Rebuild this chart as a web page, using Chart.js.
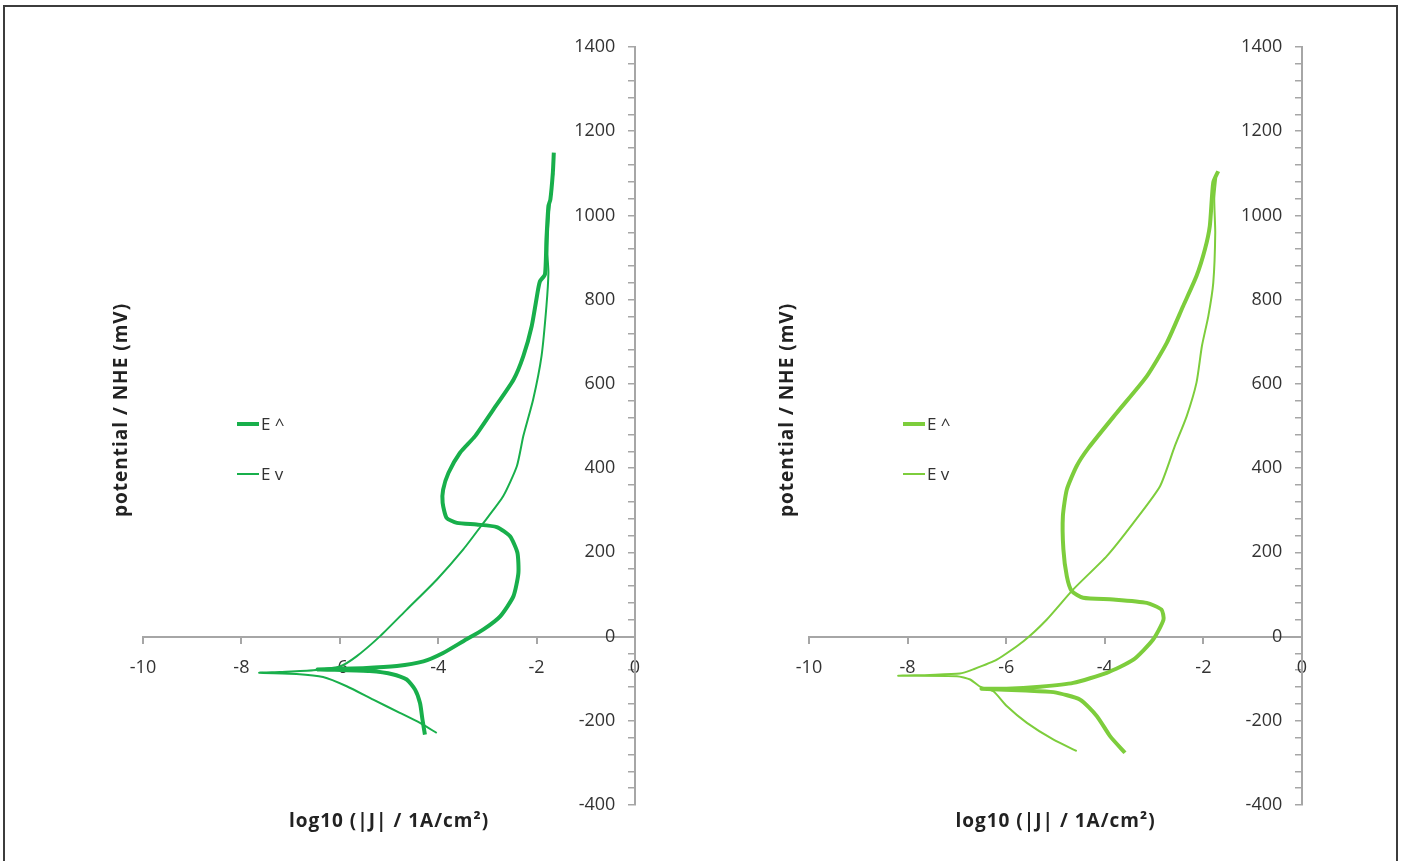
<!DOCTYPE html>
<html>
<head>
<meta charset="utf-8">
<script src="https://cdn.jsdelivr.net/npm/chart.js@4/dist/chart.umd.min.js"></script>
<style>
  body { margin: 0; background: #fff; }
  #cadre { position: absolute; left: 3px; top: 5px; width: 1391px; height: 900px; border: 2px solid #3c3c3c; }
  canvas { position: absolute; top: 0; }
  #g1 { left: 0; }
  #g2 { left: 702px; }
</style>
</head>
<body>
<div id="cadre"></div>
<canvas id="g1" width="702" height="861"></canvas>
<canvas id="g2" width="701" height="861"></canvas>
<script>
// left sample: anodic scan (E ^) and reverse scan (E v)
const leftUpJ = [-4.27,-4.32,-4.37,-4.47,-4.64,-4.91,-5.39,-6.1,-6.45,-5.53,-4.84,-4.30,-3.9,-3.49,-3.08,-2.74,-2.47,-2.37,-2.39,-2.54,-2.81,-3.22,-3.62,-3.83,-3.91,-3.90,-3.79,-3.56,-3.25,-2.88,-2.47,-2.27,-2.10,-1.97,-1.93,-1.83,-1.80,-1.76,-1.72,-1.67,-1.65];
const leftUpE = [-233,-197,-158,-126,-102,-90,-82,-79,-78,-75,-70,-59,-39,-11,17,48,96,151,199,238,260,266,270,282,318,349,389,436,476,539,610,666,737,824,844,860,943,1022,1038,1101,1149];
const leftDownJ = [-1.66,-1.72,-1.76,-1.78,-1.76,-1.80,-1.90,-2.07,-2.27,-2.40,-2.68,-3.08,-3.49,-4.03,-4.64,-5.18,-5.66,-6.0,-6.54,-7.22,-7.64,-6.88,-6.34,-5.86,-5.32,-4.78,-4.37,-4.03];
const leftDownE = [1100,1040,980,910,864,785,666,563,476,405,333,270,207,135,64,1,-47,-71,-80,-84,-86,-89,-96,-118,-150,-181,-205,-229];

// right sample
const rightUpJ = [-3.59,-3.89,-4.16,-4.50,-5.04,-5.6,-6.5,-5.99,-5.31,-4.64,-3.96,-3.42,-3.02,-2.81,-2.85,-3.15,-3.83,-4.44,-4.67,-4.77,-4.84,-4.85,-4.77,-4.57,-4.33,-3.76,-3.15,-2.74,-2.41,-2.14,-1.97,-1.87,-1.80,-1.70];
const rightUpE = [-276,-237,-189,-150,-132,-128,-124,-124,-119,-110,-86,-55,-7,40,64,80,88,92,108,143,207,286,349,405,448,531,618,698,785,856,919,975,1078,1105];
const rightDownJ = [-1.74,-1.78,-1.76,-1.80,-1.90,-2.03,-2.14,-2.34,-2.58,-2.88,-3.42,-3.96,-4.64,-5.18,-5.65,-6.19,-6.67,-6.94,-7.55,-8.19,-7.0,-6.73,-6.53,-6.26,-5.99,-5.58,-5.04,-4.57];
const rightDownE = [1090,1040,959,840,761,690,603,523,452,357,270,191,112,40,-11,-55,-78,-88,-91,-93,-94,-102,-119,-130,-165,-205,-245,-272];

const seriesNames = ['E ^', 'E v'];
const xTitle = 'log10 (|J| / 1A/cm²)';
const yTitle = 'potential / NHE (mV)';

function points(js, es) {
  return js.map((j, i) => ({x: j, y: es[i]}));
}

// legend and axis titles drawn on the canvas
const decor = {
  id: 'decor',
  afterDraw(chart) {
    const ctx = chart.ctx;
    const area = chart.chartArea;
    ctx.save();
    chart.data.datasets.forEach((ds, i) => {
      const y = 424 + i * 50;
      const x = area.left + 94;
      ctx.strokeStyle = ds.borderColor;
      ctx.lineWidth = ds.borderWidth;
      ctx.beginPath();
      ctx.moveTo(x, y);
      ctx.lineTo(x + 22, y);
      ctx.stroke();
      ctx.fillStyle = '#333';
      ctx.font = '17px "Open Sans"';
      ctx.textBaseline = 'middle';
      ctx.fillText(ds.label, x + 24, y + 1);
    });
    ctx.fillStyle = '#222';
    ctx.font = 'bold 19px "Open Sans"';
    ctx.letterSpacing = '1px';
    ctx.textAlign = 'center';
    ctx.textBaseline = 'middle';
    ctx.fillText(xTitle, (area.left + area.right) / 2, 822);
    ctx.translate(area.left - 21, 410);
    ctx.rotate(-Math.PI / 2);
    ctx.fillText(yTitle, 0, 0);
    ctx.restore();
  }
};

function dessinerGraphique(id, upJ, upE, downJ, downE, couleur, pad) {
  const axe = '#a6a6a6';
  const police = {family: 'Open Sans', size: 18};
  const config = {
    type: 'scatter',
    data: {
      datasets: [
        {label: seriesNames[0], data: points(upJ, upE), borderColor: couleur, borderWidth: 4, showLine: true, pointRadius: 0, tension: 0.2},
        {label: seriesNames[1], data: points(downJ, downE), borderColor: couleur, borderWidth: 2, showLine: true, pointRadius: 0, tension: 0.2}
      ]
    },
    options: {
      responsive: false,
      animation: false,
      layout: {padding: pad},
      plugins: {legend: {display: false}, tooltip: {enabled: false}},
      scales: {
        x: {
          type: 'linear', min: -10, max: 0, position: {y: 0},
          ticks: {stepSize: 2, padding: 15, color: '#333', font: police, callback: v => String(v)},
          grid: {drawOnChartArea: false, tickLength: 6, color: axe, lineWidth: 2},
          border: {color: axe, width: 2}
        },
        // axis line and minor ticks at log10 J = 0
        y: {
          type: 'linear', min: -400, max: 1400, position: {x: 0},
          ticks: {stepSize: 40, autoSkip: false, display: false},
          grid: {drawOnChartArea: false, tickLength: 6, color: axe, lineWidth: 1.5},
          border: {color: axe, width: 2}
        },
        // the tick labels, set a little to the left of the axis
        yLab: {
          type: 'linear', axis: 'y', min: -400, max: 1400, position: {x: -0.4},
          ticks: {stepSize: 200, color: '#333', font: police, callback: v => String(v)},
          grid: {display: false},
          border: {display: false}
        }
      }
    },
    plugins: [decor]
  };
  return new Chart(document.getElementById(id), config);
}

dessinerGraphique('g1', leftUpJ, leftUpE, leftDownJ, leftDownE, '#18af4b', {left: 143, right: 67, top: 47, bottom: 56});
dessinerGraphique('g2', rightUpJ, rightUpE, rightDownJ, rightDownE, '#7dcd3c', {left: 107, right: 101, top: 47, bottom: 56});
</script>
</body>
</html>
